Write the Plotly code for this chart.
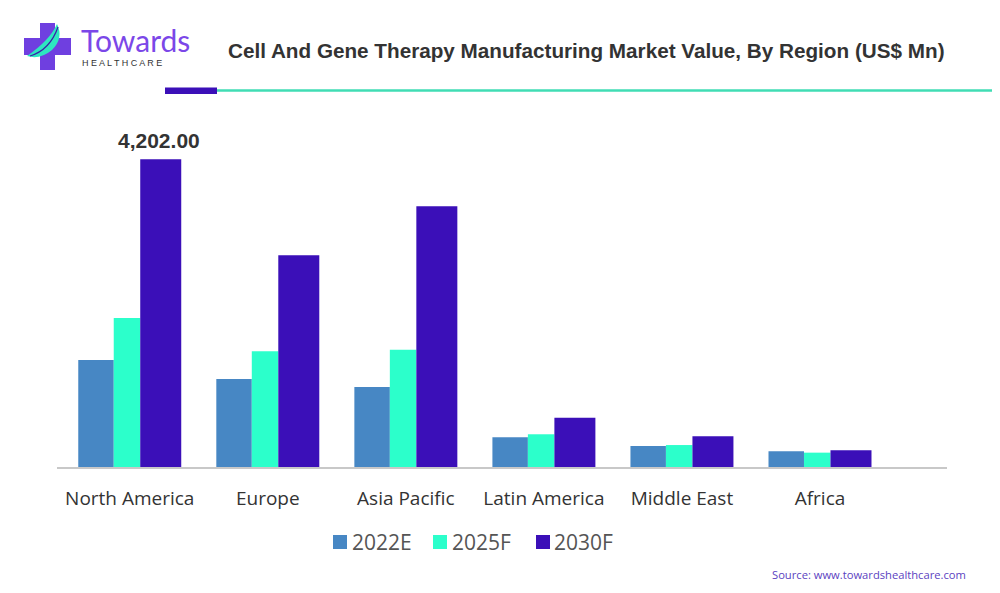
import plotly.graph_objects as go

regions = ["North America", "Europe", "Asia Pacific", "Latin America", "Middle East", "Africa"]
series_names = ["2022E", "2025F", "2030F"]
v2022 = [1462, 1202, 1093, 406, 287, 214]
v2025 = [2036, 1580, 1602, 447, 300, 196]
v2030 = [4202, 2892, 3561, 674, 419, 228]
values = [v2022, v2025, v2030]
colors = ["#4787C4", "#2CFFCB", "#3B0FB8"]
widths = [0.257, 0.192, 0.297]
offsets = [-0.373, -0.116, 0.076]

# the page adds an 8px body margin; work in screen pixels and convert
OFF = 8
SW, SH = 1000, 593
W, H = SW - OFF, SH - OFF
# plot area in screen pixels
SX0, SX1, SY0, SY1 = 57, 947, 130, 467
L, R, T, B = SX0 - OFF, W - (SX1 - OFF), SY0 - OFF, H - (SY1 - OFF)
PW, PH = SX1 - SX0, SY1 - SY0


def px(x):
    return (x - SX0) / PW


def py(y):
    return (SY1 - y) / PH


fig = go.Figure()
for name, vals, col, w, off in zip(series_names, values, colors, widths, offsets):
    fig.add_trace(go.Bar(
        x=list(range(len(regions))), y=vals, name=name,
        marker=dict(color=col, line=dict(width=0)),
        width=w, offset=off, hoverinfo="y+name", showlegend=False,
    ))

# label on the largest bar
imax = v2030.index(max(v2030))
fig.add_annotation(
    x=imax + offsets[2] + widths[2] / 2 - 0.015, y=max(v2030), xref="x", yref="y",
    text=f"{max(v2030):,.2f}", showarrow=False, yanchor="bottom", yshift=5,
    font=dict(family="Liberation Sans", size=21, color="#333333", weight="bold"),
)

shapes = []
# title underline
shapes.append(dict(type="rect", xref="paper", yref="paper",
                   x0=px(165), x1=px(217), y0=py(94), y1=py(87.5),
                   fillcolor="#3B0FB8", line=dict(width=0)))
shapes.append(dict(type="line", xref="paper", yref="paper",
                   x0=px(217), x1=px(1012), y0=py(90.5), y1=py(90.5),
                   line=dict(color="#40DDB4", width=2.5)))
# logo cross
shapes.append(dict(type="rect", xref="paper", yref="paper",
                   x0=px(40), x1=px(55), y0=py(70), y1=py(23),
                   fillcolor="#6F3FE0", line=dict(width=0)))
shapes.append(dict(type="rect", xref="paper", yref="paper",
                   x0=px(24), x1=px(71), y0=py(55), y1=py(38),
                   fillcolor="#6F3FE0", line=dict(width=0)))


def path(points):
    s = ""
    for cmd, pts in points:
        s += cmd + " " + " ".join(f"{px(a):.5f},{py(b):.5f}" for a, b in pts) + " "
    return s + "Z"


leaf = path([("M", [(27, 56)]), ("Q", [(40, 60), (52, 50)]), ("Q", [(64, 38), (57, 24)]),
             ("Q", [(50, 40), (27, 56)])])
shapes.append(dict(type="path", xref="paper", yref="paper", path=leaf,
                   fillcolor="#2EE6C0", line=dict(width=0)))
vein = ("M " + f"{px(30):.5f},{py(56):.5f} Q {px(50):.5f},{py(50):.5f} {px(58):.5f},{py(27):.5f}")
shapes.append(dict(type="path", xref="paper", yref="paper", path=vein,
                   line=dict(color="#3B1FA8", width=1.2)))

# custom legend (square + text), screen positions
legend_sq_x = [333, 433, 536]
legend_tx_x = [350, 450, 552]
legend_y = 542
for name, col, sx, tx in zip(series_names, colors, legend_sq_x, legend_tx_x):
    shapes.append(dict(type="rect", xref="paper", yref="paper",
                       x0=px(sx), x1=px(sx + 14), y0=py(legend_y + 7), y1=py(legend_y - 7),
                       fillcolor=col, line=dict(width=0)))
    fig.add_annotation(xref="paper", yref="paper", x=px(tx), y=py(legend_y), xanchor="left",
                       yanchor="middle", text=name, showarrow=False,
                       font=dict(family="Open Sans", size=21, color="#555555"))

fig.add_annotation(xref="paper", yref="paper", x=px(79), y=py(40), xanchor="left", yanchor="middle",
                   text="Towards", showarrow=False,
                   font=dict(family="Lato", size=30, color="#7B47E8"))
fig.add_annotation(xref="paper", yref="paper", x=px(80), y=py(62.5), xanchor="left", yanchor="middle",
                   text="H E A L T H C A R E", showarrow=False,
                   font=dict(family="Liberation Sans", size=9, color="#333333"))
fig.add_annotation(xref="paper", yref="paper", x=px(586), y=py(50), xanchor="center", yanchor="middle",
                   text="Cell And Gene Therapy Manufacturing Market Value, By Region (US$ Mn)", showarrow=False,
                   font=dict(family="Liberation Sans", size=20.7, color="#333333", weight="bold"))
fig.add_annotation(xref="paper", yref="paper", x=px(968), y=py(574), xanchor="right", yanchor="middle",
                   text="Source: www.towardshealthcare.com", showarrow=False,
                   font=dict(family="Open Sans", size=11.2, color="#5B3FBF"))

fig.update_layout(
    width=W, height=H,
    margin=dict(l=L, r=R, t=T, b=B, pad=0),
    paper_bgcolor="white", plot_bgcolor="white",
    barmode="overlay",
    shapes=shapes,
    showlegend=False,
    xaxis=dict(
        tickmode="array", tickvals=list(range(len(regions))), ticktext=regions,
        range=[-0.527, 5.92], showgrid=False, zeroline=False,
        showline=True, linecolor="#C8C8C8", linewidth=2,
        ticks="outside", ticklen=13, tickcolor="rgba(0,0,0,0)",
        tickfont=dict(family="Open Sans", size=19, color="#333333"),
    ),
    yaxis=dict(range=[0, 4603], visible=False, showgrid=False, zeroline=False),
)

fig.write_html("out.html")
